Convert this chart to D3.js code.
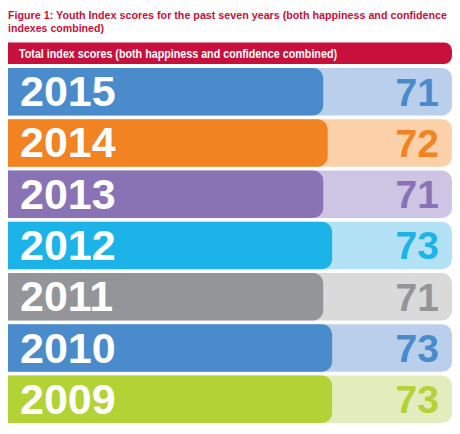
<!DOCTYPE html>
<html>
<head>
<meta charset="utf-8">
<script src="https://cdn.jsdelivr.net/npm/d3@7"></script>
<style>
  html, body { margin: 0; padding: 0; background: #ffffff; }
  svg { display: block; font-family: "Liberation Sans", Arial, sans-serif; }
</style>
</head>
<body>
<div id="chart"></div>
<script>
// --- Data ---
const TITLE_LINES = [
  "Figure 1: Youth Index scores for the past seven years (both happiness and confidence",
  "indexes combined)"
];
const TITLE_WIDTHS = [439, 96];
const HEADER_LABEL = "Total index scores (both happiness and confidence combined)";
const years = ["2015", "2014", "2013", "2012", "2011", "2010", "2009"];
const scores = [71, 72, 71, 73, 71, 73, 73];
const barColors = ["#4a8ccb", "#f28323", "#8a73b4", "#1cb4e8", "#939598", "#4a8ccb", "#b3d236"];
const trackColors = ["#bacfec", "#fcd1aa", "#cec4e3", "#b3e1f6", "#dadadb", "#bacfec", "#e2edbd"];
const MAX_SCORE = 100;

// --- Layout ---
const WIDTH = 460;
const HEIGHT = 434;
const LEFT = 8;
const RIGHT = 452;
const ROWS_TOP = 68;
const ROWS_BOTTOM = 423;
const RADIUS = 10;
const TITLE_COLOR = "#c8103c";

const svg = d3.select("#chart")
  .append("svg")
  .attr("width", WIDTH)
  .attr("height", HEIGHT);

// path for a rect with square left corners and rounded right ones
function rightRounded(x, y, w, h, r) {
  r = Math.min(r, w, h / 2);
  return `M${x},${y}H${x + w - r}A${r},${r} 0 0 1 ${x + w},${y + r}` +
    `V${y + h - r}A${r},${r} 0 0 1 ${x + w - r},${y + h}H${x}Z`;
}

const x = d3.scaleLinear().domain([0, MAX_SCORE]).range([LEFT, RIGHT]);
const y = d3.scaleBand().domain(years).range([ROWS_TOP, ROWS_BOTTOM]).paddingInner(0.075).paddingOuter(0);

// title (the original face is narrower than Arial, so squeeze to its width)
svg.append("g")
  .selectAll("text")
  .data(TITLE_LINES)
  .join("text")
  .attr("x", LEFT)
  .attr("y", (d, i) => 18.5 + i * 13)
  .attr("fill", TITLE_COLOR)
  .attr("font-size", 11)
  .attr("font-weight", "bold")
  .attr("textLength", (d, i) => TITLE_WIDTHS[i])
  .attr("lengthAdjust", "spacingAndGlyphs")
  .text(d => d);

// header band
svg.append("path")
  .attr("d", rightRounded(x(0), 42.5, x(MAX_SCORE) - x(0), 21.5, 8))
  .attr("fill", TITLE_COLOR);
svg.append("text")
  .attr("x", 19)
  .attr("y", 57.5)
  .attr("fill", "#ffffff")
  .attr("font-size", 12)
  .attr("font-weight", "bold")
  .attr("textLength", 318)
  .attr("lengthAdjust", "spacingAndGlyphs")
  .text(HEADER_LABEL);

const rows = svg.append("g")
  .selectAll("g")
  .data(years.map((yr, i) => ({ year: yr, score: scores[i], dark: barColors[i], light: trackColors[i] })))
  .join("g")
  .attr("transform", d => `translate(0,${y(d.year)})`);

const bh = y.bandwidth();

rows.append("path")
  .attr("d", rightRounded(x(0), 0, x(MAX_SCORE) - x(0), bh, RADIUS))
  .attr("fill", d => d.light);

rows.append("path")
  .attr("d", d => rightRounded(x(0), 0, x(d.score) - x(0), bh, RADIUS))
  .attr("fill", d => d.dark);

rows.append("text")
  .attr("x", 20)
  .attr("y", bh / 2 + 14.5)
  .attr("fill", "#ffffff")
  .attr("font-size", 43)
  .attr("font-weight", "bold")
  .text(d => d.year);

rows.append("text")
  .attr("x", 439)
  .attr("y", bh / 2 + 14)
  .attr("text-anchor", "end")
  .attr("fill", d => d.dark)
  .attr("font-size", 39)
  .attr("font-weight", "bold")
  .text(d => d.score);
</script>
</body>
</html>
